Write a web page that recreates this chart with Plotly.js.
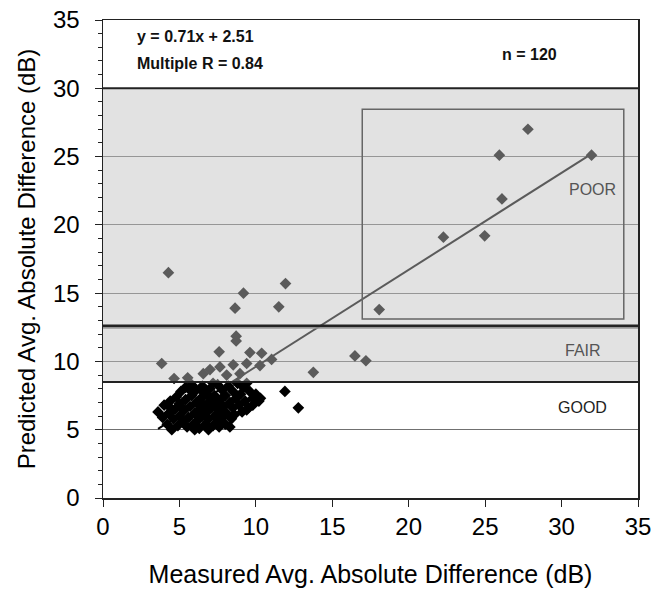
<!DOCTYPE html>
<html>
<head>
<meta charset="utf-8">
<script src="https://cdn.plot.ly/plotly-3.0.1.min.js"></script>
<style>html,body{margin:0;padding:0;background:#fff;}#chart{width:654px;height:598px;}</style>
</head>
<body>
<div id="chart"></div>
<script>
// Measured (x) and predicted (y) average absolute differences, dB
const measured = [
  // upper / shaded region points
  4.28, 9.19, 8.64, 11.94, 11.5, 8.71, 8.71, 27.8, 25.93, 31.96, 26.1, 22.27, 24.97, 18.07,
  16.48, 17.2, 13.76, 3.84, 4.65, 5.54, 7.6, 9.61, 10.38, 11.03, 7.0, 7.65, 8.52, 9.4, 10.27,
  6.56, 8.09, 8.96,
  // lower cluster
  3.6, 3.9, 4.0, 4.2, 4.3, 4.4, 4.5, 4.6, 4.7, 4.8, 4.9, 5.0, 5.0, 5.1, 5.2, 5.3, 5.4, 5.4,
  5.5, 5.6, 5.7, 5.8, 5.8, 5.9, 6.0, 6.1, 6.1, 6.2, 6.3, 6.3, 6.4, 6.5, 6.5, 6.6, 6.7, 6.8,
  6.8, 6.9, 7.0, 7.0, 7.1, 7.2, 7.3, 7.3, 7.4, 7.5, 7.5, 7.6, 7.7, 7.8, 7.8, 7.9, 8.0, 8.0,
  8.1, 8.2, 8.3, 8.4, 8.5, 8.5, 8.6, 8.7, 8.8, 8.9, 9.0, 9.1, 9.2, 9.3, 9.5, 9.6, 9.8, 10.0,
  10.2, 6.0, 6.9, 5.6, 4.4, 7.2, 8.3, 9.4, 6.6, 5.2, 7.6, 11.9, 12.78, 10.3, 9.8, 9.4
];
const predicted = [
  16.5, 15.0, 13.9, 15.7, 14.0, 11.85, 11.5, 27.0, 25.1, 25.1, 21.9, 19.1, 19.2, 13.8,
  10.4, 10.05, 9.2, 9.85, 8.75, 8.8, 10.7, 10.65, 10.6, 10.15, 9.4, 9.6, 9.75, 9.85, 9.7,
  9.1, 9.0, 9.1,
  6.3, 5.9, 6.8, 5.4, 6.2, 7.1, 5.0, 5.8, 6.5, 7.4, 5.3, 6.0, 6.9, 7.8, 5.6, 6.4, 7.2, 8.1,
  5.2, 5.9, 6.7, 7.5, 8.3, 5.4, 6.2, 7.0, 7.9, 5.7, 6.5, 5.1, 7.3, 8.2, 6.0, 6.8, 5.4, 7.6,
  6.3, 5.8, 7.1, 8.0, 6.6, 5.3, 6.0, 7.5, 6.9, 8.3, 5.6, 6.4, 7.2, 5.9, 7.9, 6.7, 5.4, 7.5,
  6.2, 8.2, 7.0, 5.8, 6.6, 7.8, 6.1, 7.3, 8.4, 6.8, 7.6, 6.3, 8.1, 7.1, 6.6, 7.8, 7.3, 7.6,
  7.1, 5.0, 5.0, 8.0, 6.6, 8.4, 5.2, 8.4, 7.7, 6.6, 5.2, 7.8, 6.6, 7.3, 6.8, 6.45
];
const slope = 0.71, intercept = 2.51;
const fitX = [Math.min(...measured), Math.max(...measured)];
const fitY = fitX.map(v => slope * v + intercept);
const xTicks = [0, 5, 10, 15, 20, 25, 30, 35];
const yTicks = [0, 5, 10, 15, 20, 25, 30, 35];
const zoneLabels = ['POOR', 'FAIR', 'GOOD'];
const zoneLabelX = [32.0, 31.4, 31.4];
const zoneLabelY = [22.6, 10.8, 6.6];

const font = 'Arial, "Liberation Sans", sans-serif';

const traces = [
  {x: fitX, y: fitY, mode: 'lines', line: {color: '#000', width: 2}, hoverinfo: 'skip', showlegend: false},
  {x: measured, y: predicted, mode: 'markers', type: 'scatter',
   marker: {symbol: 'diamond', size: 9, color: '#000'}, showlegend: false}
];

const layout = {
  width: 654, height: 598,
  margin: {l: 103, r: 16, t: 20, b: 100},
  paper_bgcolor: '#fff', plot_bgcolor: '#fff',
  font: {family: font, color: '#000', size: 24},
  showlegend: false,
  xaxis: {
    range: [0, 35], tickvals: xTicks, ticktext: xTicks.map(String),
    showgrid: false, zeroline: false, showline: true, linecolor: '#222', linewidth: 1.5,
    mirror: true, ticks: 'outside', ticklen: 7, tickcolor: '#222',
    tickfont: {size: 24, family: font},
    title: {text: 'Measured Avg. Absolute Difference (dB)', font: {size: 25, family: font}, standoff: 26}
  },
  yaxis: {
    range: [0, 35], tickvals: yTicks, ticktext: yTicks.map(String),
    showgrid: true, gridcolor: '#707070', gridwidth: 1, zeroline: false,
    showline: true, linecolor: '#222', linewidth: 1.5, mirror: true,
    ticks: 'outside', ticklen: 7, tickcolor: '#222', ticklabelstandoff: 10,
    minor: {dtick: 1, ticks: 'outside', ticklen: 4, tickcolor: '#222', showgrid: false},
    tickfont: {size: 24, family: font},
    title: {text: 'Predicted Avg. Absolute Difference (dB)', font: {size: 24, family: font}, standoff: 10}
  },
  shapes: [
    {type: 'rect', xref: 'x', yref: 'y', x0: 0, x1: 35, y0: 8.5, y1: 30, layer: 'above',
     fillcolor: 'rgba(193,193,193,0.47)', line: {width: 0}},
    {type: 'line', xref: 'x', yref: 'y', x0: 0, x1: 35, y0: 30, y1: 30, layer: 'above', line: {color: '#222', width: 2}},
    {type: 'line', xref: 'x', yref: 'y', x0: 0, x1: 35, y0: 8.5, y1: 8.5, layer: 'above', line: {color: '#222', width: 2}},
    {type: 'line', xref: 'x', yref: 'y', x0: 0, x1: 35, y0: 12.6, y1: 12.6, layer: 'above', line: {color: '#222', width: 3}},
    {type: 'line', xref: 'x', yref: 'y', x0: 0, x1: 35, y0: 12.45, y1: 12.45, layer: 'above', line: {color: '#999', width: 1.5}},
    {type: 'rect', xref: 'x', yref: 'y', x0: 16.96, x1: 34.07, y0: 13.1, y1: 28.47, layer: 'above',
     fillcolor: 'rgba(0,0,0,0)', line: {color: '#666', width: 1.5}}
  ],
  annotations: [
    {x: 2.1, y: 33.8, xref: 'x', yref: 'y', xanchor: 'left', yanchor: 'middle', showarrow: false,
     text: '<b>y = 0.71x + 2.51</b>', font: {size: 16, family: font, color: '#111'}},
    {x: 2.1, y: 31.8, xref: 'x', yref: 'y', xanchor: 'left', yanchor: 'middle', showarrow: false,
     text: '<b>Multiple R = 0.84</b>', font: {size: 16, family: font, color: '#111'}},
    {x: 27.9, y: 32.45, xref: 'x', yref: 'y', xanchor: 'center', yanchor: 'middle', showarrow: false,
     text: '<b>n = 120</b>', font: {size: 16, family: font, color: '#111'}}
  ].concat(zoneLabels.map((t, i) => ({
    x: zoneLabelX[i], y: zoneLabelY[i], xref: 'x', yref: 'y', showarrow: false,
    xanchor: 'center', yanchor: 'middle', text: t,
    font: {size: 16, family: font, color: i === 2 ? '#222' : '#555'}
  })))
};

Plotly.newPlot('chart', traces, layout, {displayModeBar: false, staticPlot: true});
</script>
</body>
</html>
